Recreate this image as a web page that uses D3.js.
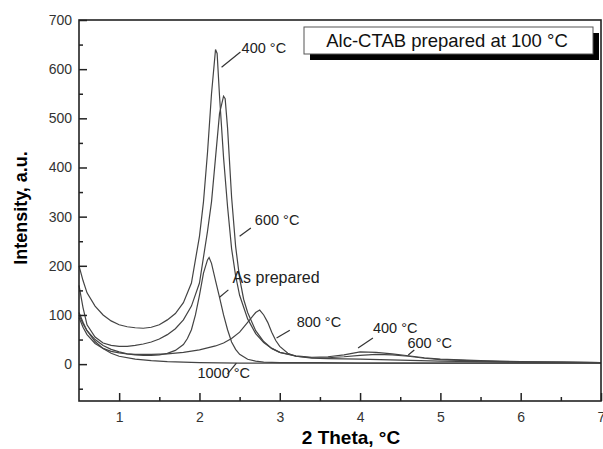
<!DOCTYPE html>
<html>
<head>
<meta charset="utf-8">
<script src="https://cdn.jsdelivr.net/npm/d3@7"></script>
<style>
  body { margin: 0; background: #fff; }
  svg { font-family: "Liberation Sans", Arial, sans-serif; }
  .tick text { fill: #333; }
</style>
</head>
<body>
<svg width="603" height="449"></svg>
<script>
// XRD patterns (2 theta vs intensity)
const x400 = [0.5,0.55,0.6,0.7,0.8,0.9,1.0,1.1,1.2,1.3,1.4,1.5,1.6,1.7,1.8,1.9,2.0,2.05,2.1,2.15,2.2,2.22,2.25,2.3,2.35,2.4,2.45,2.5,2.6,2.7,2.8,2.9,3.0,3.2,3.4,3.6,3.8,4.0,4.2,4.4,4.6,4.8,5.0,5.5,6.0,6.5,7.0];
const y400 = [200,170,145,118,100,88,80,76,74,73,75,80,90,103,125,165,260,330,430,550,640,632,545,420,320,235,180,140,92,62,44,32,24,17,14,15,19,25,24,21,17,13,10,7,5,4,3];

const x600 = [0.5,0.55,0.6,0.7,0.8,0.9,1.0,1.1,1.2,1.3,1.4,1.5,1.6,1.7,1.8,1.9,2.0,2.1,2.15,2.2,2.25,2.3,2.32,2.35,2.4,2.45,2.5,2.55,2.6,2.7,2.8,2.9,3.0,3.2,3.4,3.6,3.8,4.0,4.2,4.4,4.6,4.8,5.0,5.5,6.0,6.5,7.0];
const y600 = [160,115,80,55,43,38,36,36,38,41,45,51,60,72,90,118,165,270,330,420,510,545,540,480,340,240,175,132,105,68,46,32,24,16,13,13,15,18,20,19,16,12,9,6,4,4,3];

const xAsPrep = [0.5,0.55,0.6,0.7,0.8,0.9,1.0,1.1,1.2,1.3,1.4,1.5,1.6,1.7,1.8,1.85,1.9,1.95,2.0,2.05,2.1,2.12,2.15,2.2,2.25,2.3,2.35,2.4,2.45,2.5,2.6,2.7,2.8,3.0,3.5,4.0,5.0,6.0,7.0];
const yAsPrep = [100,82,68,50,38,30,25,21,19,18,18,19,22,28,40,52,70,100,140,185,212,217,205,170,136,100,70,45,30,20,10,6,4,3,3,2,2,2,2];

const x800 = [0.5,0.55,0.6,0.7,0.8,0.9,1.0,1.1,1.2,1.4,1.6,1.8,2.0,2.2,2.3,2.4,2.5,2.6,2.7,2.75,2.8,2.85,2.9,2.95,3.0,3.1,3.2,3.4,3.6,4.0,4.5,5.0,6.0,7.0];
const y800 = [95,75,60,42,32,26,23,21,20,20,21,24,29,37,43,52,65,85,105,110,100,85,65,48,36,22,16,12,11,10,8,6,4,3];

const x1000 = [0.5,0.55,0.6,0.7,0.8,0.9,1.0,1.2,1.4,1.6,1.8,2.0,2.5,3.0,4.0,5.0,6.0,7.0];
const y1000 = [105,85,68,46,32,22,16,10,7,5,4,3,2,2,2,2,2,2];

const xTicks = [1, 2, 3, 4, 5, 6, 7];
const xMinorTicks = [1.5, 2.5, 3.5, 4.5, 5.5, 6.5];
const yTicks = [0, 100, 200, 300, 400, 500, 600, 700];
const yMinorTicks = [-50, 50, 150, 250, 350, 450, 550, 650];

// label text, baseline start and leader line (data coords)
const labels = [
    { text: "400 °C", at: [2.525, 633], line: [[2.275, 604], [2.51, 635]] },
    { text: "600 °C", at: [2.69, 283], line: [[2.5, 260], [2.64, 277]] },
    { text: "As prepared", at: [2.41, 165], line: [[2.25, 136], [2.36, 151]] },
    { text: "800 °C", at: [3.21, 75], line: [[2.96, 53], [3.125, 69]] },
    { text: "400 °C", at: [4.16, 63], line: [[3.975, 33], [4.16, 53]] },
    { text: "600 °C", at: [4.59, 33], line: [[4.6, 18.5], [4.675, 28.7]] },
    { text: "1000 °C", at: [1.975, -28], line: [[2.35, -20], [2.46, 2]] }
];

const series = [
    { xs: x400, ys: y400 },
    { xs: x600, ys: y600 },
    { xs: xAsPrep, ys: yAsPrep },
    { xs: x800, ys: y800 },
    { xs: x1000, ys: y1000 }
];

const svg = d3.select("svg");
const plot = { left: 79, right: 601, top: 20, bottom: 401 };

const x = d3.scaleLinear().domain([0.5, 7]).range([plot.left, plot.right]);
const y = d3.scaleLinear().domain([-75, 700]).range([plot.bottom, plot.top]);

// curves
const line = d3.line()
    .x(d => x(d[0]))
    .y(d => y(d[1]));

svg.append("g")
    .selectAll("path")
    .data(series)
    .join("path")
    .attr("d", s => line(s.xs.map((v, i) => [v, s.ys[i]])))
    .attr("fill", "none")
    .attr("stroke", "#444")
    .attr("stroke-width", 1.2);

// axes with inward ticks
svg.append("g")
    .attr("transform", `translate(0,${plot.bottom})`)
    .call(d3.axisBottom(x).tickValues(xTicks).tickSize(-8).tickPadding(11).tickFormat(d3.format("d")));
svg.append("g")
    .attr("transform", `translate(0,${plot.bottom})`)
    .call(d3.axisBottom(x).tickValues(xMinorTicks).tickSize(-4).tickFormat(""));

svg.append("g")
    .attr("transform", `translate(${plot.left},0)`)
    .call(d3.axisLeft(y).tickValues(yTicks).tickSize(-8).tickPadding(7));
svg.append("g")
    .attr("transform", `translate(${plot.left},0)`)
    .call(d3.axisLeft(y).tickValues(yMinorTicks).tickSize(-4).tickFormat(""));

svg.selectAll(".domain").remove();
svg.selectAll(".tick line").attr("stroke", "#222").attr("stroke-width", 1.5);
svg.selectAll(".tick text").style("font-size", "14px").style("font-family", "Liberation Sans, Arial, sans-serif");

// frame
svg.append("rect")
    .attr("x", plot.left)
    .attr("y", plot.top)
    .attr("width", plot.right - plot.left)
    .attr("height", plot.bottom - plot.top)
    .attr("fill", "none")
    .attr("stroke", "#222")
    .attr("stroke-width", 1.6);

// curve labels
labels.forEach(l => {
    svg.append("line")
        .attr("x1", x(l.line[0][0])).attr("y1", y(l.line[0][1]))
        .attr("x2", x(l.line[1][0])).attr("y2", y(l.line[1][1]))
        .attr("stroke", "#333")
        .attr("stroke-width", 1.2);
    svg.append("text")
        .attr("x", x(l.at[0]))
        .attr("y", y(l.at[1]))
        .style("font-size", l.text === "As prepared" ? "16px" : "14.5px")
        .attr("fill", "#222")
        .text(l.text);
});

// legend box with shadow
svg.append("rect")
    .attr("x", 310).attr("y", 33)
    .attr("width", 289).attr("height", 27)
    .attr("fill", "#000");
svg.append("rect")
    .attr("x", 304).attr("y", 27)
    .attr("width", 289).attr("height", 27)
    .attr("fill", "#fff")
    .attr("stroke", "#555")
    .attr("stroke-width", 1);
svg.append("text")
    .attr("x", 447)
    .attr("y", 47)
    .attr("text-anchor", "middle")
    .style("font-size", "18.5px")
    .attr("fill", "#111")
    .text("Alc-CTAB prepared at 100 °C");

// axis titles
svg.append("text")
    .attr("x", 351)
    .attr("y", 444)
    .attr("text-anchor", "middle")
    .style("font-size", "19px")
    .style("font-weight", "bold")
    .text("2 Theta, °C");

svg.append("text")
    .attr("transform", "rotate(-90)")
    .attr("x", -208)
    .attr("y", 27)
    .attr("text-anchor", "middle")
    .style("font-size", "18px")
    .style("font-weight", "bold")
    .text("Intensity, a.u.");
</script>
</body>
</html>
